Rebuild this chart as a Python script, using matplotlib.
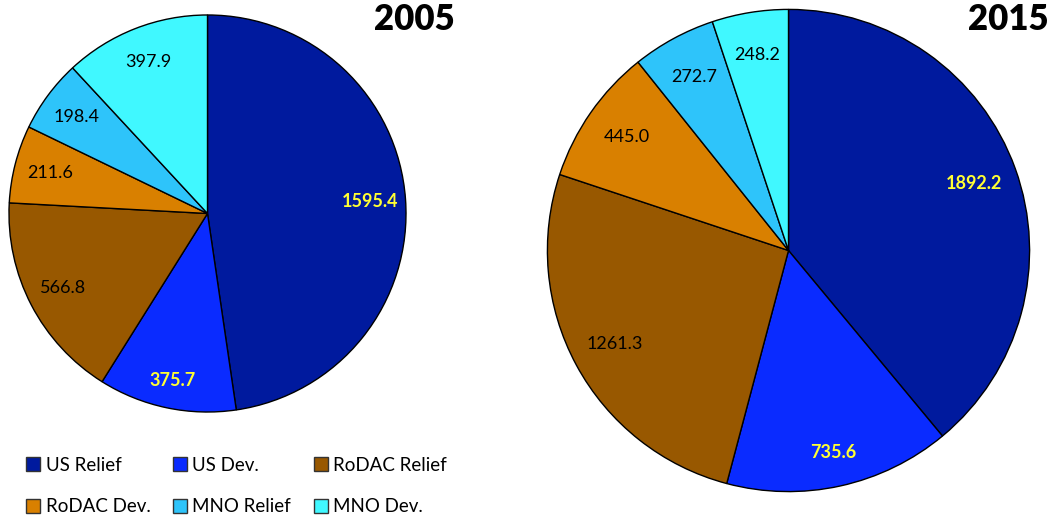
import matplotlib.pyplot as plt
import numpy as np
from matplotlib.patches import Patch

plt.rcParams['font.family'] = ['Lato', 'DejaVu Sans']

categories = ['US Relief', 'US Dev.', 'RoDAC Relief', 'RoDAC Dev.', 'MNO Relief', 'MNO Dev.']
colors = ['#001A9E', '#0A2BFF', '#985800', '#D98000', '#2EC4FA', '#40F8FF']
values_2005 = [1595.4, 375.7, 566.8, 211.6, 198.4, 397.9]
values_2015 = [1892.2, 735.6, 1261.3, 445.0, 272.7, 248.2]
years = ['2005', '2015']

# label style: the two blue slices get bold yellow text
label_colors = ['#FFFF33', '#FFFF33', 'black', 'black', 'black', 'black']
label_weights = ['bold', 'bold', 'normal', 'normal', 'normal', 'normal']

W, H = 1052, 519
fig = plt.figure(figsize=(W / 100, H / 100), dpi=100)


def draw_pie(rect_px, values, year, title_xy):
    x0, y0, size = rect_px
    ax = fig.add_axes([x0 / W, 1 - (y0 + size) / H, size / W, size / H])
    wedges, _ = ax.pie(values, colors=colors, startangle=90, counterclock=False,
                       radius=1.0,
                       wedgeprops=dict(edgecolor='black', linewidth=1.0))
    for i, w in enumerate(wedges):
        ang = np.deg2rad((w.theta1 + w.theta2) / 2)
        r = 0.86 if i == 1 else 0.82
        ax.text(r * np.cos(ang), r * np.sin(ang), f'{values[i]:.1f}',
                ha='center', va='center', fontsize=13,
                color=label_colors[i], fontweight=label_weights[i])
    ax.set_xlim(-1.01, 1.01)
    ax.set_ylim(-1.01, 1.01)
    ax.set_aspect('equal')
    ax.axis('off')
    fig.text(title_xy[0] / W, 1 - title_xy[1] / H, year, ha='center', va='center',
             fontsize=25, fontweight='heavy', color='black')


draw_pie((7, 13, 401), values_2005, years[0], (414, 20))
draw_pie((545, 7, 487), values_2015, years[1], (1008, 20))

handles = [Patch(facecolor=c, edgecolor='#333333', linewidth=1.0) for c in colors]
order = [0, 3, 1, 4, 2, 5]
fig.legend([handles[i] for i in order], [categories[i] for i in order],
           ncol=3, loc='upper left', bbox_to_anchor=(9 / W, 1 - 440 / H),
           frameon=False, fontsize=13.5, handlelength=0.75, handleheight=0.75,
           handletextpad=0.3, columnspacing=1.2, labelspacing=1.3)

fig.savefig('out.png', dpi=100, facecolor='white')
